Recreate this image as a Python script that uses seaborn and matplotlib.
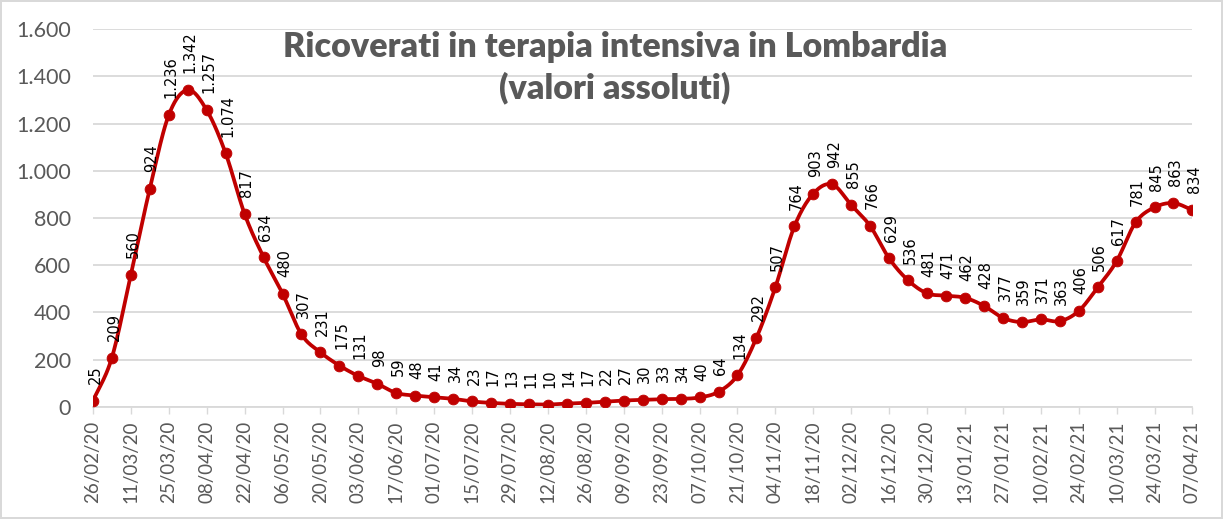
import numpy as np
import pandas as pd
import matplotlib
matplotlib.use('Agg')
import matplotlib.pyplot as plt
import seaborn as sns

# Weekly values, 26/02/20 .. 07/04/21
values = [25, 209, 560, 924, 1236, 1342, 1257, 1074, 817, 634, 480, 307, 231, 175,
          131, 98, 59, 48, 41, 34, 23, 17, 13, 11, 10, 14, 17, 22, 27, 30, 33, 34,
          40, 64, 134, 292, 507, 764, 903, 942, 855, 766, 629, 536, 481, 471, 462,
          428, 377, 359, 371, 363, 406, 506, 617, 781, 845, 863, 834]

tick_labels = ['26/02/20', '11/03/20', '25/03/20', '08/04/20', '22/04/20', '06/05/20',
               '20/05/20', '03/06/20', '17/06/20', '01/07/20', '15/07/20', '29/07/20',
               '12/08/20', '26/08/20', '09/09/20', '23/09/20', '07/10/20', '21/10/20',
               '04/11/20', '18/11/20', '02/12/20', '16/12/20', '30/12/20', '13/01/21',
               '27/01/21', '10/02/21', '24/02/21', '10/03/21', '24/03/21', '07/04/21']

y_ticks = [0, 200, 400, 600, 800, 1000, 1200, 1400, 1600]

title = 'Ricoverati in terapia intensiva in Lombardia\n(valori assoluti)'

red = '#C00000'
gray = '#595959'

df = pd.DataFrame({'x': np.arange(len(values)), 'y': values})


# smooth line through the points (Catmull-Rom, like Excel's smoothed line)
def smooth(x, y, steps=20):
    x = np.asarray(x, float)
    y = np.asarray(y, float)
    px = np.concatenate([[2 * x[0] - x[1]], x, [2 * x[-1] - x[-2]]])
    py = np.concatenate([[2 * y[0] - y[1]], y, [2 * y[-1] - y[-2]]])
    xs, ys = [], []
    t = np.linspace(0, 1, steps, endpoint=False)
    for i in range(1, len(px) - 2):
        for p, out in ((px, xs), (py, ys)):
            p0, p1, p2, p3 = p[i - 1], p[i], p[i + 1], p[i + 2]
            out.extend(0.5 * (2 * p1 + (-p0 + p2) * t
                              + (2 * p0 - 5 * p1 + 4 * p2 - p3) * t ** 2
                              + (-p0 + 3 * p1 - 3 * p2 + p3) * t ** 3))
    xs.append(x[-1])
    ys.append(y[-1])
    return pd.DataFrame({'x': xs, 'y': ys})


curve = smooth(df['x'], df['y'])

sns.set_style('white')
plt.rcParams['font.family'] = ['Lato', 'DejaVu Sans']

fig = plt.figure(figsize=(12.23, 5.19), dpi=100)
fig.patch.set_edgecolor('#d9d9d9')
fig.patch.set_linewidth(1.5)
ax = fig.add_axes([0.076, 0.216, 0.899, 0.728])

ax.set_axisbelow(True)
ax.grid(axis='y', color='#d9d9d9', linewidth=1.3)

sns.lineplot(data=curve, x='x', y='y', sort=False, color=red, linewidth=2.7, ax=ax)
sns.scatterplot(data=df, x='x', y='y', color=red, s=60, edgecolor=red, zorder=3, ax=ax)

for xi, yi in zip(df['x'], df['y']):
    lab = f'{yi:,}'.replace(',', '.')
    ax.annotate(lab, (xi, yi), xytext=(1.5, 12), textcoords='offset points',
                rotation=90, ha='center', va='bottom', fontsize=10.5, color='black',
                family=['DejaVu Sans'])

ax.set_xlim(0, len(values) - 1)
ax.set_ylim(0, 1600)
ax.set_yticks(y_ticks)
ax.set_yticklabels([f'{v:,}'.replace(',', '.') for v in y_ticks])
ax.set_xticks(np.arange(0, len(values), 2))
ax.set_xticklabels(tick_labels, rotation=90)
ax.tick_params(axis='y', labelsize=15.5, colors=gray, length=0, pad=16)
ax.tick_params(axis='x', labelsize=13.5, colors=gray, length=5, width=1,
               direction='out', bottom=True, pad=5)
for lbl in ax.get_xticklabels():
    lbl.set_color(gray)
ax.xaxis.set_tick_params(color='#d9d9d9')
ax.set_xlabel('')
ax.set_ylabel('')
for s in ['top', 'right', 'left']:
    ax.spines[s].set_visible(False)
ax.spines['bottom'].set_color('#d9d9d9')
ax.spines['bottom'].set_linewidth(1.3)

fig.text(0.503, 0.94, title, ha='center', va='top', fontsize=24.5,
         fontweight='heavy', color=gray, linespacing=1.3)

fig.savefig('out.png', dpi=100)
